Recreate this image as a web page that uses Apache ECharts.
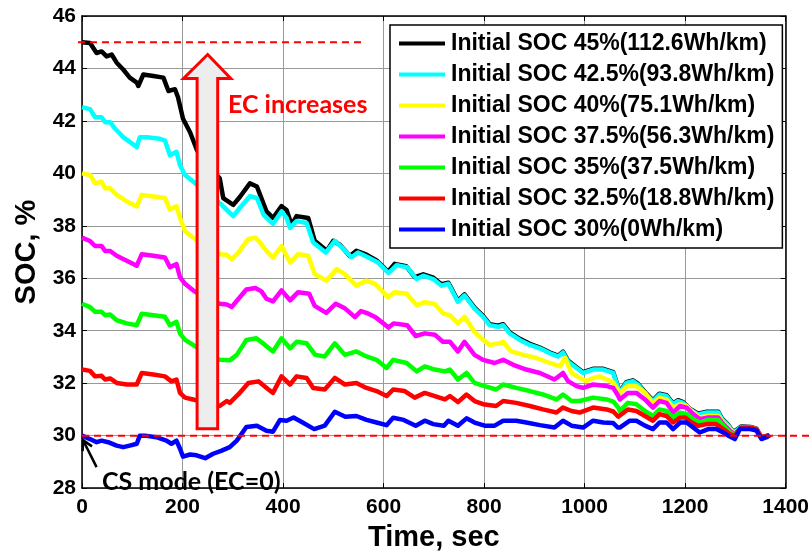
<!DOCTYPE html>
<html>
<head>
<meta charset="utf-8">
<script src="https://cdn.jsdelivr.net/npm/echarts@6/dist/echarts.min.js"></script>
<style>html,body{margin:0;padding:0;background:#fff}</style>
</head>
<body>
<div id="main" style="width:812px;height:557px"></div>
<script type="text/javascript">
	// 各曲线数据 [时间 s, SOC %]
	var soc45 = [[0,45.0],[16,44.97],[29,44.59],[39,44.65],[49,44.46],[59,44.53],[69,44.22],[82,43.96],[95,43.65],[109,43.46],[112,43.33],[122,43.77],[142,43.71],[162,43.65],[172,43.14],[185,43.21],[191,42.9],[201,42.08],[215,41.57],[225,41.07],[229,40.87],[250,40.3],[274,39.81],[281,39.06],[301,38.8],[314,39.1],[334,39.62],[348,39.5],[367,38.55],[380,38.3],[397,38.75],[407,38.6],[417,38.04],[427,38.37],[450,38.3],[463,37.43],[487,37.05],[500,37.43],[513,37.28],[533,36.85],[546,37.05],[566,36.9],[586,36.68],[609,36.25],[622,36.55],[645,36.46],[662,36.04],[679,36.15],[699,36.02],[715,35.77],[729,35.83],[748,35.14],[761,35.39],[781,34.88],[798,34.57],[811,34.25],[828,34.19],[838,34.25],[851,33.94],[871,33.69],[891,33.5],[911,33.36],[931,33.17],[947,33.05],[957,33.2],[967,32.86],[984,32.61],[997,32.42],[1017,32.55],[1037,32.55],[1057,32.42],[1070,31.66],[1083,32.04],[1096,32.11],[1106,31.98],[1123,31.6],[1136,31.35],[1149,31.6],[1163,31.54],[1176,31.23],[1186,31.35],[1196,31.28],[1209,31.03],[1226,30.84],[1243,30.91],[1266,30.91],[1273,30.66],[1286,30.4],[1296,30.14],[1306,30.27],[1312,30.35],[1330,30.33],[1342,30.27],[1350,29.98],[1360,29.96],[1367,30.02]];
	var soc425 = [[0,42.52],[16,42.45],[26,42.14],[39,42.14],[46,41.95],[56,41.95],[66,41.7],[82,41.38],[95,41.2],[109,41.0],[115,41.38],[129,41.38],[155,41.32],[165,41.25],[175,40.69],[188,40.82],[195,40.31],[205,39.94],[221,39.69],[245,39.3],[265,39.0],[278,38.8],[291,38.55],[301,38.37],[314,38.68],[334,39.13],[348,39.06],[361,38.43],[380,38.07],[397,38.55],[407,38.3],[414,37.92],[427,38.18],[447,38.11],[460,37.36],[485,36.98],[503,37.43],[516,37.2],[536,36.8],[549,36.98],[569,36.8],[589,36.6],[610,36.2],[626,36.5],[647,36.42],[666,35.97],[679,36.1],[699,35.97],[715,35.72],[729,35.79],[748,35.1],[761,35.35],[781,34.84],[798,34.53],[811,34.21],[828,34.15],[838,34.21],[851,33.9],[871,33.65],[891,33.46],[911,33.33],[931,33.14],[947,33.02],[957,33.17],[967,32.83],[984,32.58],[997,32.39],[1017,32.52],[1037,32.52],[1057,32.39],[1070,31.63],[1083,32.01],[1096,32.08],[1106,31.95],[1123,31.57],[1136,31.32],[1149,31.57],[1163,31.51],[1176,31.2],[1186,31.32],[1196,31.25],[1209,31.0],[1226,30.81],[1243,30.88],[1266,30.88],[1273,30.63],[1286,30.38],[1296,30.12],[1306,30.25],[1312,30.33],[1330,30.31],[1342,30.25],[1350,29.96],[1360,29.95],[1367,30.02]];
	var soc40 = [[0,40.0],[16,39.94],[26,39.62],[39,39.68],[46,39.43],[56,39.43],[69,39.18],[89,38.93],[109,38.74],[119,39.18],[142,39.12],[165,39.06],[175,38.62],[188,38.75],[195,38.3],[205,37.8],[221,37.55],[250,37.2],[274,36.92],[288,36.9],[298,36.73],[311,36.98],[331,37.5],[345,37.55],[357,37.3],[367,37.04],[380,36.79],[397,37.23],[414,36.6],[430,36.92],[450,36.86],[463,36.16],[486,35.91],[507,36.35],[523,36.16],[546,35.72],[566,35.91],[583,35.79],[609,35.28],[622,35.47],[646,35.41],[666,34.97],[682,35.09],[702,35.02],[719,34.65],[732,34.59],[748,34.28],[761,34.53],[781,33.96],[798,33.65],[811,33.46],[831,33.52],[838,33.58],[854,33.21],[878,33.08],[904,32.96],[931,32.77],[951,32.64],[961,32.96],[974,32.39],[990,32.2],[1004,32.08],[1017,32.2],[1030,32.26],[1044,32.14],[1057,32.03],[1070,31.63],[1086,31.89],[1103,31.89],[1120,31.63],[1136,31.25],[1149,31.44],[1163,31.38],[1176,31.07],[1190,31.2],[1203,31.13],[1216,30.88],[1229,30.69],[1246,30.75],[1266,30.75],[1276,30.5],[1289,30.25],[1299,30.06],[1306,30.2],[1312,30.3],[1330,30.3],[1342,30.25],[1350,29.98],[1360,29.97],[1367,30.02]];
	var soc375 = [[0,37.55],[16,37.42],[26,37.23],[39,37.23],[46,37.04],[56,37.04],[69,36.86],[89,36.67],[109,36.48],[119,36.92],[142,36.86],[165,36.79],[175,36.42],[188,36.54],[195,36.04],[205,35.79],[221,35.54],[250,35.2],[274,35.03],[288,35.0],[298,34.91],[309,35.16],[327,35.57],[345,35.63],[357,35.5],[367,35.22],[380,35.12],[397,35.54],[414,35.16],[430,35.47],[452,35.41],[463,34.95],[486,34.68],[505,35.03],[522,34.87],[543,34.52],[555,34.75],[570,34.65],[585,34.5],[610,34.12],[620,34.28],[647,34.21],[664,33.8],[682,33.9],[702,33.85],[718,33.58],[732,33.58],[748,33.21],[761,33.58],[781,33.08],[798,32.89],[821,32.77],[838,32.89],[858,32.7],[884,32.52],[911,32.39],[940,32.14],[957,32.39],[967,32.08],[984,31.89],[997,31.82],[1017,31.95],[1044,31.89],[1057,31.82],[1067,31.51],[1070,31.38],[1086,31.63],[1103,31.63],[1120,31.38],[1136,31.07],[1149,31.32],[1163,31.25],[1176,30.88],[1190,31.13],[1203,31.07],[1216,30.82],[1229,30.63],[1246,30.69],[1266,30.69],[1276,30.44],[1289,30.19],[1299,30.04],[1306,30.2],[1312,30.3],[1330,30.3],[1342,30.25],[1350,29.98],[1360,29.97],[1367,30.02]];
	var soc35 = [[0,35.03],[16,34.9],[26,34.72],[39,34.72],[46,34.59],[56,34.62],[69,34.4],[89,34.28],[109,34.21],[119,34.65],[142,34.59],[165,34.53],[175,34.21],[188,34.34],[195,33.9],[205,33.65],[221,33.46],[250,33.1],[274,32.89],[294,32.87],[308,33.08],[327,33.65],[347,33.71],[364,33.46],[380,33.21],[397,33.71],[414,33.33],[427,33.58],[447,33.52],[464,33.08],[483,33.02],[503,33.52],[523,33.08],[546,33.21],[566,33.02],[586,32.89],[606,32.58],[619,32.89],[646,32.77],[666,32.45],[682,32.64],[702,32.52],[722,32.45],[732,32.52],[748,32.14],[765,32.39],[781,32.01],[801,31.89],[824,31.76],[838,31.95],[864,31.82],[891,31.7],[917,31.57],[944,31.38],[957,31.57],[974,31.32],[990,31.32],[1017,31.45],[1044,31.38],[1057,31.3],[1067,31.07],[1070,30.94],[1086,31.25],[1103,31.2],[1120,30.94],[1136,30.75],[1149,31.0],[1163,30.94],[1176,30.69],[1190,30.88],[1203,30.82],[1216,30.63],[1229,30.5],[1246,30.6],[1266,30.6],[1276,30.38],[1289,30.12],[1299,30.04],[1306,30.2],[1312,30.3],[1330,30.3],[1342,30.25],[1350,29.98],[1360,29.97],[1367,30.02]];
	var soc325 = [[0,32.52],[16,32.47],[26,32.26],[39,32.28],[46,32.14],[56,32.18],[69,32.01],[89,31.95],[109,31.95],[119,32.39],[142,32.33],[165,32.26],[178,32.07],[188,32.14],[195,31.63],[205,31.45],[221,31.38],[250,31.2],[274,31.13],[288,31.32],[294,31.25],[311,31.57],[331,32.01],[351,32.07],[371,31.76],[380,31.63],[397,32.26],[414,31.95],[427,32.26],[447,32.2],[460,31.82],[483,31.76],[503,32.2],[523,31.95],[546,32.01],[566,31.82],[586,31.7],[606,31.51],[619,31.76],[642,31.7],[662,31.45],[682,31.63],[702,31.51],[722,31.38],[732,31.51],[748,31.28],[765,31.57],[781,31.32],[798,31.2],[824,31.13],[838,31.32],[864,31.25],[891,31.13],[917,31.0],[944,30.88],[957,31.07],[974,30.94],[990,30.88],[1017,31.07],[1044,31.0],[1057,30.92],[1067,30.72],[1086,31.0],[1103,30.94],[1120,30.75],[1136,30.57],[1149,30.82],[1163,30.75],[1176,30.5],[1190,30.69],[1200,30.69],[1213,30.5],[1226,30.38],[1243,30.44],[1262,30.44],[1276,30.25],[1289,30.06],[1299,30.0],[1306,30.2],[1312,30.3],[1330,30.3],[1342,30.25],[1350,29.98],[1360,29.97],[1367,30.02]];
	var soc30 = [[0,30.0],[16,29.87],[29,29.75],[39,29.81],[52,29.75],[69,29.62],[82,29.56],[95,29.62],[109,29.69],[115,30.0],[125,30.0],[148,29.94],[168,29.81],[178,29.69],[188,29.81],[195,29.5],[201,29.2],[215,29.28],[228,29.25],[245,29.14],[261,29.31],[278,29.43],[294,29.56],[308,29.81],[327,30.33],[348,30.38],[367,30.19],[380,30.15],[394,30.6],[407,30.57],[421,30.69],[439,30.5],[462,30.25],[483,30.38],[503,30.91],[524,30.72],[546,30.75],[566,30.6],[586,30.5],[606,30.4],[619,30.68],[640,30.6],[664,30.38],[682,30.57],[699,30.44],[720,30.38],[729,30.57],[748,30.38],[765,30.66],[781,30.5],[801,30.38],[821,30.38],[838,30.57],[864,30.57],[884,30.5],[911,30.4],[940,30.31],[957,30.57],[974,30.38],[997,30.31],[1017,30.57],[1037,30.5],[1057,30.48],[1066,30.31],[1070,30.31],[1090,30.57],[1103,30.57],[1120,30.38],[1136,30.25],[1149,30.5],[1163,30.5],[1176,30.25],[1190,30.5],[1203,30.5],[1216,30.31],[1229,30.12],[1246,30.25],[1262,30.25],[1276,30.12],[1286,30.0],[1299,29.87],[1309,30.25],[1330,30.25],[1342,30.19],[1352,29.87],[1362,29.94],[1369,30.02]];

	var names = ['Initial SOC 45%(112.6Wh/km)', 'Initial SOC 42.5%(93.8Wh/km)', 'Initial SOC 40%(75.1Wh/km)',
		'Initial SOC 37.5%(56.3Wh/km)', 'Initial SOC 35%(37.5Wh/km)', 'Initial SOC 32.5%(18.8Wh/km)', 'Initial SOC 30%(0Wh/km)'];
	var colors = ['#000000', '#00ffff', '#ffff00', '#ff00ff', '#00ff00', '#ff0000', '#0000ff'];
	var allData = [soc45, soc425, soc40, soc375, soc35, soc325, soc30];

	// 注释: 红色虚线 / 大箭头 / 文字 (数据坐标)
	var refLine45 = [[-8, 45], [560, 45]];
	var refLine30 = [[0, 30], [1450, 30]];
	var bigArrow = [[250, 44.53], [296, 43.62], [270, 43.62], [270, 30.26], [229, 30.26], [229, 43.62], [202, 43.62]];
	var csArrow = [[29, 28.8], [2, 29.83]];

	var font = 'Arial, "Liberation Sans", sans-serif';
	var noteFont = 'bold 25px Lato, "Open Sans", sans-serif';
	var myChart = echarts.init(document.getElementById('main'));

	var series = [];
	for (var i = 0; i < allData.length; i++) {
		series.push({
			name: names[i],
			type: 'line',
			data: allData[i],
			showSymbol: false,
			symbol: 'none',
			animation: false,
			lineStyle: { color: colors[i], width: 4.5, join: 'round' },
			itemStyle: { color: colors[i] }
		});
	}

	var axisCommon = {
		axisLine: { show: true, onZero: false, lineStyle: { color: '#000', width: 1.5 } },
		axisTick: { show: true, inside: true, length: 5, lineStyle: { color: '#000', width: 1 } }
	};

	var option = {
		animation: false,
		backgroundColor: '#fff',
		grid: { left: 82, top: 16, right: 26, bottom: 64 },
		legend: {
			orient: 'vertical',
			left: 390,
			top: 25,
			data: names,
			icon: 'rect',
			itemWidth: 46,
			itemHeight: 4,
			itemGap: 8,
			padding: [7, 8, 7, 9],
			backgroundColor: '#fff',
			borderColor: '#000',
			borderWidth: 1.5,
			textStyle: { fontFamily: font, fontWeight: 'bold', fontSize: 23, color: '#000', padding: [0, 0, 0, 1] }
		},
		xAxis: [
			Object.assign({
				type: 'value', min: 0, max: 1400, interval: 200,
				name: 'Time, sec', nameLocation: 'middle', nameGap: 31,
				nameTextStyle: { fontFamily: font, fontWeight: 'bold', fontSize: 29, color: '#000' },
				axisLabel: { fontFamily: font, fontWeight: 'bold', fontSize: 21, color: '#000', margin: 9,
					formatter: function (v) { return String(v); } },
				splitLine: { show: true, lineStyle: { color: '#999', width: 1 } }
			}, axisCommon),
			Object.assign({
				type: 'value', min: 0, max: 1400, interval: 200, position: 'top',
				axisLabel: { show: false }, splitLine: { show: false }
			}, axisCommon)
		],
		yAxis: [
			Object.assign({
				type: 'value', min: 28, max: 46, interval: 2,
				name: 'SOC, %', nameLocation: 'middle', nameGap: 40,
				nameTextStyle: { fontFamily: font, fontWeight: 'bold', fontSize: 29, color: '#000' },
				axisLabel: { fontFamily: font, fontWeight: 'bold', fontSize: 21, color: '#000', margin: 6 },
				splitLine: { show: true, lineStyle: { color: '#999', width: 1 } }
			}, axisCommon),
			Object.assign({
				type: 'value', min: 28, max: 46, interval: 2, position: 'right',
				axisLabel: { show: false }, splitLine: { show: false }
			}, axisCommon)
		],
		series: series
	};
	myChart.setOption(option);

	// 注释图形: 用坐标系换算像素
	function px(p) { return myChart.convertToPixel({ gridIndex: 0 }, p); }
	var a0 = px(refLine45[0]), a1 = px(refLine45[1]);
	var b0 = px(refLine30[0]), b1 = px(refLine30[1]);
	var arrowPts = bigArrow.map(px);
	var c0 = px(csArrow[0]), c1 = px(csArrow[1]);
	var ang = Math.atan2(c1[1] - c0[1], c1[0] - c0[0]);
	var hl = 11, hw = 0.5;
	var headL = [c1[0] - hl * Math.cos(ang - hw), c1[1] - hl * Math.sin(ang - hw)];
	var headR = [c1[0] - hl * Math.cos(ang + hw), c1[1] - hl * Math.sin(ang + hw)];
	var dash = { stroke: '#ff0000', lineWidth: 2, lineDash: [7, 5] };

	myChart.setOption({
		graphic: [
			{ type: 'line', z: 50, shape: { x1: a0[0], y1: a0[1], x2: a1[0], y2: a1[1] }, style: dash },
			{ type: 'line', z: 50, shape: { x1: b0[0], y1: b0[1], x2: b1[0], y2: b1[1] }, style: dash },
			{ type: 'polygon', z: 60, shape: { points: arrowPts }, style: { fill: '#ededed', stroke: '#ff0000', lineWidth: 3, lineJoin: 'miter' } },
			{ type: 'text', z: 60, x: 228, y: 105, style: { text: 'EC increases', fill: '#ff0000', font: noteFont, verticalAlign: 'middle' } },
			{ type: 'polyline', z: 60, shape: { points: [c0, c1] }, style: { stroke: '#000', lineWidth: 2.5 } },
			{ type: 'polyline', z: 60, shape: { points: [headL, c1, headR] }, style: { stroke: '#000', lineWidth: 2.5, fill: null } },
			{ type: 'text', z: 60, x: 102, y: 482, style: { text: 'CS mode (EC=0)', fill: '#000', font: noteFont, verticalAlign: 'middle' } }
		]
	});
</script>
</body>
</html>
